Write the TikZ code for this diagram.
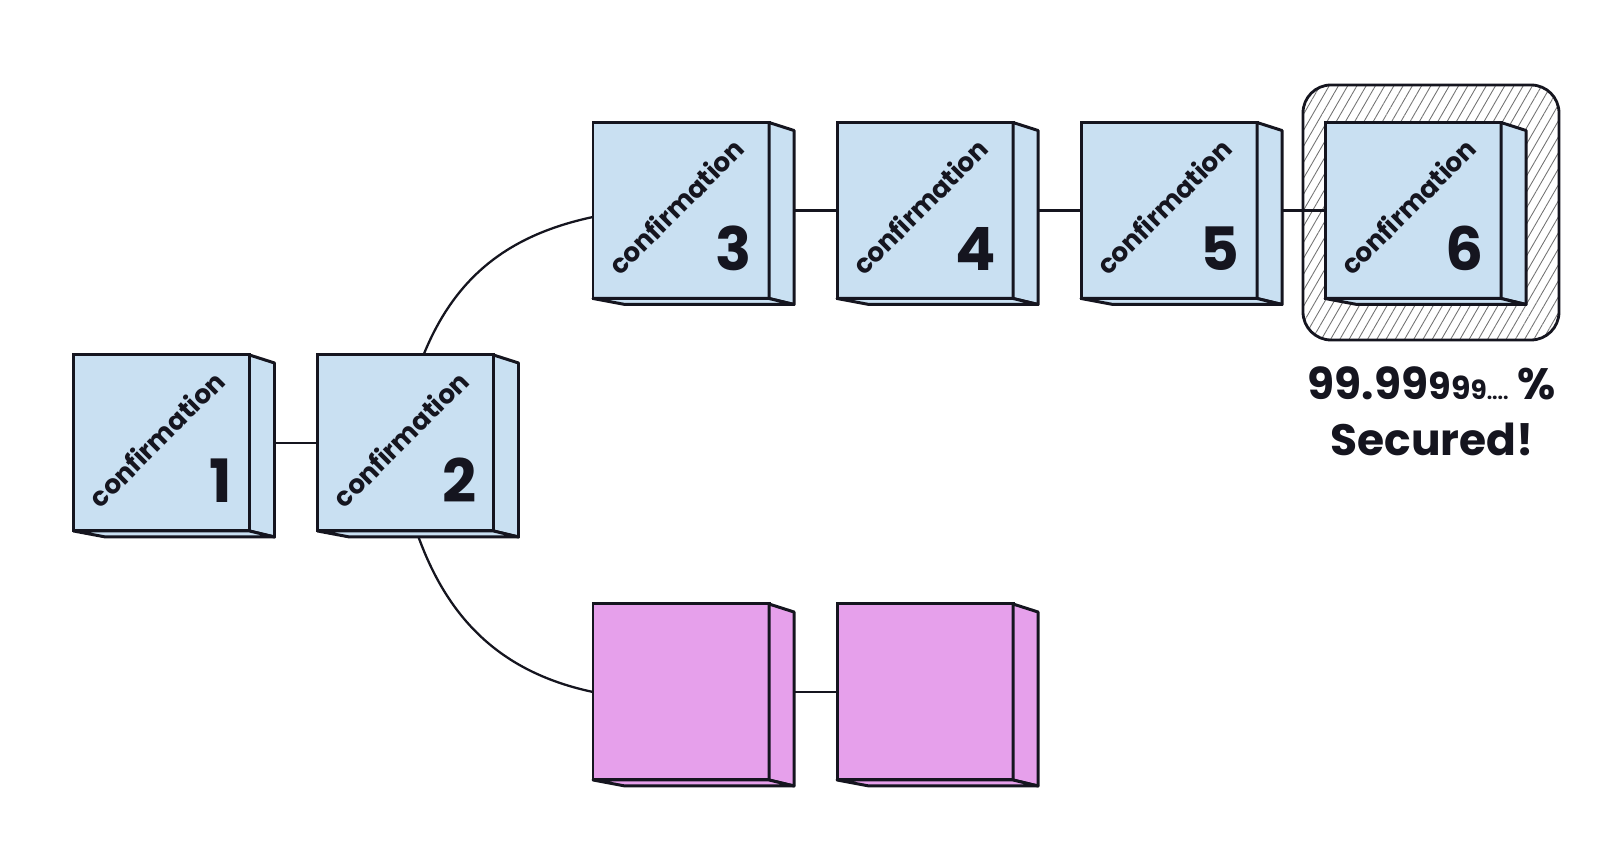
\documentclass[tikz,border=0pt]{standalone}
\usepackage{fontspec}
\setmainfont{Poppins}
\usepackage{tikz}
\usetikzlibrary{positioning,calc,patterns.meta}
\definecolor{blockblue}{HTML}{C9E0F2}
\definecolor{forkpink}{HTML}{E6A0EB}
\definecolor{ink}{HTML}{15151F}
% side and bottom faces of a block
\newcommand{\blockside}[2]{%
  \draw[face,fill=#2] (#1.north east) -- ++(0.5,-0.16) -- ($(#1.south east)+(0.5,-0.12)$) -- (#1.south east) -- cycle;
  \draw[face,fill=#2] (#1.south west) -- ++(0.64,-0.12) -- ($(#1.south east)+(0.5,-0.12)$) -- (#1.south east) -- cycle;}
\begin{document}
\begin{tikzpicture}[
  block/.style={draw=ink,line width=1.7pt,fill=blockblue,minimum width=3.52cm,minimum height=3.52cm,inner sep=0pt,outer sep=0pt},
  fork/.style={block,fill=forkpink},
  face/.style={draw=ink,line width=1.7pt,line join=round},
  link/.style={draw=ink,line width=1.3pt},
  conf/.style={rotate=45,font=\bfseries\fontsize{15}{15}\selectfont,text=ink,inner sep=0pt},
  num/.style={anchor=base east,font=\bfseries\fontsize{34}{34}\selectfont,text=ink,inner sep=0pt},
  vault/.style={draw=ink,line width=1.6pt,rounded corners=0.56cm,minimum width=5.12cm,minimum height=5.1cm,
    pattern={Lines[angle=60,distance=0.16cm,line width=0.5pt]},pattern color=black!55},
  big/.style={anchor=base,font=\bfseries\fontsize{25}{28}\selectfont,text=ink,inner sep=0pt}]
\useasboundingbox (0,0) rectangle (32,17.04);
\node[vault] (vault) at (28.62,12.79) {};
% main chain
\node[block] (b1) at (3.23,8.18) {};
\node[block,right=1.36cm of b1] (b2) {};
\node[block] (b3) at (13.62,12.83) {};
\node[block,right=1.36cm of b3] (b4) {};
\node[block,right=1.36cm of b4] (b5) {};
\node[block,right=1.36cm of b5] (b6) {};
% fork
\node[fork] (f1) at (13.62,3.2) {};
\node[fork,right=1.36cm of f1] (f2) {};
\blockside{b1}{blockblue}
\blockside{b2}{blockblue}
\blockside{b3}{blockblue}
\blockside{b4}{blockblue}
\blockside{b5}{blockblue}
\blockside{b6}{blockblue}
\blockside{f1}{forkpink}
\blockside{f2}{forkpink}
% labels
\node[conf] (c1) at ($(b1.center)+(-0.1,0.08)$) {confirmation};
\node[conf] (c2) at ($(b2.center)+(-0.1,0.08)$) {confirmation};
\node[conf] (c3) at ($(b3.center)+(-0.1,0.08)$) {confirmation};
\node[conf] (c4) at ($(b4.center)+(-0.1,0.08)$) {confirmation};
\node[conf] (c5) at ($(b5.center)+(-0.1,0.08)$) {confirmation};
\node[conf] (c6) at ($(b6.center)+(-0.1,0.08)$) {confirmation};
\node[num] (n1) at ($(b1.south east)+(-0.34,0.56)$) {1};
\node[num] (n2) at ($(b2.south east)+(-0.34,0.56)$) {2};
\node[num] (n3) at ($(b3.south east)+(-0.34,0.56)$) {3};
\node[num] (n4) at ($(b4.south east)+(-0.34,0.56)$) {4};
\node[num] (n5) at ($(b5.south east)+(-0.34,0.56)$) {5};
\node[num] (n6) at ($(b6.south east)+(-0.34,0.56)$) {6};
% links
\draw[link] ($(b1.east)+(0.5,0)$) -- (b2.west);
\draw[link] ($(b3.east)+(0.5,0)$) -- (b4.west);
\draw[link] ($(b4.east)+(0.5,0)$) -- (b5.west);
\draw[link] ($(b5.east)+(0.5,0)$) -- (b6.west);
\draw[link] ($(f1.east)+(0.5,0)$) -- (f2.west);
\draw[link] ($(b2.north)+(0.36,0)$) to[out=68,in=192] ($(b3.west)+(0,-0.13)$);
\draw[link] ($(b2.south)+(0.26,-0.12)$) to[out=-70,in=168] (f1.west);
\node[big] (pct) at (28.64,9.04) {99.99{\fontsize{21}{21}\selectfont 9}{\fontsize{18}{18}\selectfont 9}{\fontsize{15}{15}\selectfont 9}{\fontsize{11}{11}\selectfont ....}\ \%};
\node[big] (sec) at (28.64,7.92) {Secured!};
\end{tikzpicture}
\end{document}
